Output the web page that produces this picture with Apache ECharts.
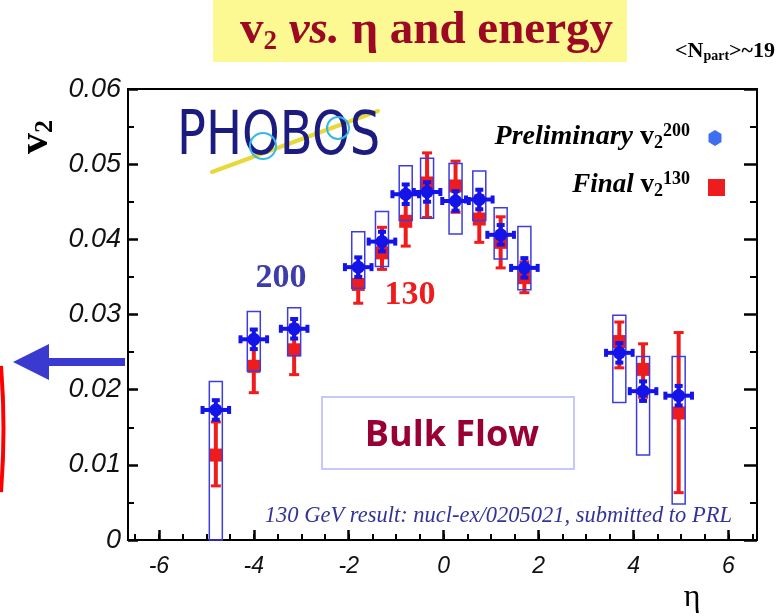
<!DOCTYPE html>
<html>
<head>
<meta charset="utf-8">
<script src="https://cdn.jsdelivr.net/npm/echarts@6/dist/echarts.min.js"></script>
<style>
  html, body { margin: 0; padding: 0; background: #ffffff; }
  #chart { width: 779px; height: 616px; }
</style>
</head>
<body>
<div id="chart"></div>
<script>
// PHOBOS elliptic flow v2 as a function of pseudorapidity, 200 and 130 GeV Au+Au

// pseudorapidity bin centres shared by both energies
const etaBins = [-4.8, -4.0, -3.15, -1.8, -1.3, -0.8, -0.35, 0.25, 0.75, 1.2, 1.7, 3.7, 4.2, 4.95];

// preliminary 200 GeV: value, statistical error, systematic band limits
const v2At200 = [0.0173, 0.0267, 0.0281, 0.0363, 0.0397, 0.0460, 0.0463, 0.0451, 0.0453, 0.0406, 0.0362, 0.0249, 0.0198, 0.0192];
const v2At200Stat = [0.0013, 0.0013, 0.0013, 0.0013, 0.0013, 0.0013, 0.0013, 0.0013, 0.0013, 0.0013, 0.0013, 0.0013, 0.0013, 0.0013];
const v2At200SysLow = [0.0, 0.0225, 0.0245, 0.0335, 0.0364, 0.0425, 0.0428, 0.0407, 0.0425, 0.0374, 0.0333, 0.0183, 0.0113, 0.0048];
const v2At200SysHigh = [0.0211, 0.0304, 0.0309, 0.0410, 0.0437, 0.0498, 0.0508, 0.0501, 0.0491, 0.0442, 0.0417, 0.0299, 0.0244, 0.0244];
const etaHalfBin200 = 0.28;

// final 130 GeV: value and error bar limits
const v2At130 = [0.0113, 0.0231, 0.0253, 0.0340, 0.0382, 0.0424, 0.0475, 0.0471, 0.0427, 0.0396, 0.0349, 0.0264, 0.0227, 0.0169];
const v2At130Low = [0.0072, 0.0196, 0.0220, 0.0315, 0.0360, 0.0391, 0.0429, 0.0436, 0.0396, 0.0362, 0.0329, 0.0229, 0.0190, 0.0063];
const v2At130High = [0.0157, 0.0266, 0.0286, 0.0365, 0.0416, 0.0457, 0.0515, 0.0504, 0.0458, 0.0430, 0.0370, 0.0290, 0.0261, 0.0276];

// axis ticks
const etaTickValues = [-6, -4, -2, 0, 2, 4, 6];
const etaMinorTickValues = [];
for (let t = -6.5; t <= 6.5; t += 0.5) etaMinorTickValues.push(t);

const RED = '#ee1c1c';
const BLUE = '#1414e8';
const BOX_BLUE = '#3c3ce0';

const redData = etaBins.map((e, i) => [e, v2At130[i], v2At130Low[i], v2At130High[i]]);
const sysData = etaBins.map((e, i) => [e, v2At200SysLow[i], v2At200SysHigh[i]]);
const blueData = etaBins.map((e, i) => [e, v2At200[i], etaHalfBin200, v2At200Stat[i]]);

function renderFinal(params, api) {
  const eta = api.value(0);
  const c = api.coord([eta, api.value(1)]);
  const lo = api.coord([eta, api.value(2)]);
  const hi = api.coord([eta, api.value(3)]);
  const s = 13, cap = 5;
  return {
    type: 'group',
    children: [
      { type: 'line', shape: { x1: c[0], y1: lo[1], x2: c[0], y2: hi[1] }, style: { stroke: RED, lineWidth: 4 } },
      { type: 'line', shape: { x1: c[0] - cap, y1: lo[1], x2: c[0] + cap, y2: lo[1] }, style: { stroke: RED, lineWidth: 3 } },
      { type: 'line', shape: { x1: c[0] - cap, y1: hi[1], x2: c[0] + cap, y2: hi[1] }, style: { stroke: RED, lineWidth: 3 } },
      { type: 'rect', shape: { x: c[0] - s / 2, y: c[1] - s / 2, width: s, height: s }, style: { fill: RED } }
    ]
  };
}

function renderSys(params, api) {
  const eta = api.value(0);
  const lo = api.coord([eta, api.value(1)]);
  const hi = api.coord([eta, api.value(2)]);
  const hw = 6.5;
  return {
    type: 'rect',
    shape: { x: hi[0] - hw, y: hi[1], width: hw * 2, height: lo[1] - hi[1] },
    style: { fill: 'none', stroke: BOX_BLUE, lineWidth: 1.5 }
  };
}

function renderPrelim(params, api) {
  const eta = api.value(0), v = api.value(1), dx = api.value(2), dv = api.value(3);
  const c = api.coord([eta, v]);
  const l = api.coord([eta - dx, v]);
  const r = api.coord([eta + dx, v]);
  const t = api.coord([eta, v + dv]);
  const b = api.coord([eta, v - dv]);
  const cap = 4;
  const st = { stroke: BLUE, lineWidth: 4 };
  return {
    type: 'group',
    children: [
      { type: 'line', shape: { x1: l[0], y1: c[1], x2: r[0], y2: c[1] }, style: st },
      { type: 'line', shape: { x1: l[0], y1: c[1] - cap, x2: l[0], y2: c[1] + cap }, style: st },
      { type: 'line', shape: { x1: r[0], y1: c[1] - cap, x2: r[0], y2: c[1] + cap }, style: st },
      { type: 'line', shape: { x1: c[0], y1: t[1], x2: c[0], y2: b[1] }, style: st },
      { type: 'line', shape: { x1: c[0] - cap, y1: t[1], x2: c[0] + cap, y2: t[1] }, style: st },
      { type: 'line', shape: { x1: c[0] - cap, y1: b[1], x2: c[0] + cap, y2: b[1] }, style: st },
      { type: 'circle', shape: { cx: c[0], cy: c[1], r: 6.5 }, style: { fill: BLUE } }
    ]
  };
}

const serif = '"Liberation Serif", "Times New Roman", serif';
const sans = '"Liberation Sans", Arial, sans-serif';

const chart = echarts.init(document.getElementById('chart'), null, { renderer: 'canvas' });

chart.setOption({
  animation: false,
  backgroundColor: '#ffffff',
  grid: {
    left: 128, right: 22, top: 89, bottom: 76,
    show: true, borderColor: '#000', borderWidth: 2, backgroundColor: 'transparent'
  },
  xAxis: [
    {
      type: 'value', min: -6.65, max: 6.6, position: 'bottom',
      axisLine: { show: true, onZero: false, lineStyle: { color: '#000', width: 2 } },
      axisTick: { show: true, inside: true, length: 10, customValues: etaTickValues, lineStyle: { color: '#000', width: 2.5 } },
      axisLabel: {
        show: true, customValues: etaTickValues, margin: 15,
        fontFamily: sans, fontStyle: 'italic', fontSize: 23, color: '#111'
      },
      splitLine: { show: false }
    },
    {
      type: 'value', min: -6.65, max: 6.6, position: 'bottom',
      axisLine: { show: false, onZero: false },
      axisTick: { show: true, inside: true, length: 6, customValues: etaMinorTickValues, lineStyle: { color: '#000', width: 2 } },
      axisLabel: { show: false },
      splitLine: { show: false }
    }
  ],
  yAxis: [
    {
      type: 'value', min: 0, max: 0.06, interval: 0.01, position: 'left',
      axisLine: { show: true, onZero: false, lineStyle: { color: '#000', width: 2 } },
      axisTick: { show: true, inside: true, length: 10, lineStyle: { color: '#000', width: 2.5 } },
      minorTick: { show: true, splitNumber: 2, length: 6, lineStyle: { color: '#000', width: 2 } },
      axisLabel: {
        margin: 7, fontFamily: sans, fontStyle: 'italic', fontSize: 27, color: '#111',
        formatter: v => (v === 0 ? '0' : v.toFixed(2))
      },
      splitLine: { show: false }
    },
    {
      type: 'value', min: 0, max: 0.06, interval: 0.01, position: 'right',
      axisLine: { show: true, onZero: false, lineStyle: { color: '#000', width: 2 } },
      axisTick: { show: true, inside: true, length: 13, lineStyle: { color: '#000', width: 2.5 } },
      minorTick: { show: true, splitNumber: 2, length: 7, lineStyle: { color: '#000', width: 2 } },
      axisLabel: { show: false },
      splitLine: { show: false }
    }
  ],
  series: [
    { name: 'Final v2 130', type: 'custom', xAxisIndex: 0, yAxisIndex: 0, renderItem: renderFinal, data: redData, z: 2 },
    { name: 'Systematic v2 200', type: 'custom', xAxisIndex: 0, yAxisIndex: 0, renderItem: renderSys, data: sysData, z: 3 },
    { name: 'Preliminary v2 200', type: 'custom', xAxisIndex: 0, yAxisIndex: 0, renderItem: renderPrelim, data: blueData, z: 4 }
  ],
  graphic: [
    // title banner
    { type: 'rect', shape: { x: 213, y: 0, width: 414, height: 62 }, style: { fill: '#fcf993' }, z: 0 },
    {
      type: 'text', x: 240, y: 31,
      style: {
        text: '{m|v}{s|2}{i| vs.}{m| η and energy}',
        align: 'left', verticalAlign: 'middle',
        rich: {
          m: { fontFamily: serif, fontWeight: 'bold', fontSize: 47, fill: '#9b0a22', lineHeight: 50 },
          i: { fontFamily: serif, fontWeight: 'bold', fontStyle: 'italic', fontSize: 47, fill: '#9b0a22', lineHeight: 50 },
          s: { fontFamily: serif, fontWeight: 'bold', fontSize: 27, fill: '#9b0a22', lineHeight: 6, verticalAlign: 'bottom' }
        }
      }
    },
    // participant number, upper right
    {
      type: 'text', x: 675, y: 51,
      style: {
        text: '{m|<N}{s|part}{m|>~19}',
        align: 'left', verticalAlign: 'middle',
        rich: {
          m: { fontFamily: serif, fontWeight: 'bold', fontSize: 22, fill: '#000', lineHeight: 24 },
          s: { fontFamily: serif, fontWeight: 'bold', fontSize: 14, fill: '#000', lineHeight: 4, verticalAlign: 'bottom' }
        }
      }
    },
    // PHOBOS logo
    { type: 'line', shape: { x1: 212, y1: 172, x2: 378, y2: 111 }, style: { stroke: '#e8d83a', lineWidth: 4, lineCap: 'round' } },
    {
      type: 'text', x: 177, y: 138, scaleX: 0.8,
      style: { text: 'PHOBOS', fontFamily: '"DejaVu Sans", sans-serif', fontSize: 60, fill: '#1c1c80', align: 'left', verticalAlign: 'middle' }
    },
    { type: 'circle', shape: { cx: 263, cy: 146, r: 13 }, style: { fill: 'none', stroke: '#35b8e8', lineWidth: 2 } },
    { type: 'circle', shape: { cx: 338, cy: 128, r: 11 }, style: { fill: 'none', stroke: '#35b8e8', lineWidth: 2 } },
    // legend
    {
      type: 'text', x: 690, y: 137,
      style: {
        text: '{i|Preliminary }{m|v}{s|2}{u|200}',
        align: 'right', verticalAlign: 'middle',
        rich: {
          i: { fontFamily: serif, fontWeight: 'bold', fontStyle: 'italic', fontSize: 28, fill: '#000', lineHeight: 30 },
          m: { fontFamily: serif, fontWeight: 'bold', fontSize: 28, fill: '#000', lineHeight: 30 },
          s: { fontFamily: serif, fontWeight: 'bold', fontSize: 18, fill: '#000', lineHeight: 6, verticalAlign: 'bottom' },
          u: { fontFamily: serif, fontWeight: 'bold', fontSize: 18, fill: '#000', lineHeight: 16, verticalAlign: 'top' }
        }
      }
    },
    {
      type: 'text', x: 690, y: 185,
      style: {
        text: '{i|Final }{m|v}{s|2}{u|130}',
        align: 'right', verticalAlign: 'middle',
        rich: {
          i: { fontFamily: serif, fontWeight: 'bold', fontStyle: 'italic', fontSize: 27, fill: '#000', lineHeight: 30 },
          m: { fontFamily: serif, fontWeight: 'bold', fontSize: 27, fill: '#000', lineHeight: 30 },
          s: { fontFamily: serif, fontWeight: 'bold', fontSize: 18, fill: '#000', lineHeight: 6, verticalAlign: 'bottom' },
          u: { fontFamily: serif, fontWeight: 'bold', fontSize: 18, fill: '#000', lineHeight: 16, verticalAlign: 'top' }
        }
      }
    },
    { type: 'polygon', shape: { points: [[715, 130], [721.5, 134], [721.5, 142], [715, 146], [708.5, 142], [708.5, 134]] }, style: { fill: '#3d6ff0' } },
    { type: 'rect', shape: { x: 708, y: 179, width: 17, height: 17 }, style: { fill: RED } },
    // energy labels
    { type: 'text', x: 281, y: 278, style: { text: '200', fontFamily: serif, fontWeight: 'bold', fontSize: 34, fill: '#3c3caa', align: 'center', verticalAlign: 'middle' } },
    { type: 'text', x: 410, y: 295, style: { text: '130', fontFamily: serif, fontWeight: 'bold', fontSize: 34, fill: RED, align: 'center', verticalAlign: 'middle' } },
    // bulk flow annotation
    { type: 'rect', shape: { x: 322, y: 397, width: 252, height: 72 }, style: { fill: '#fff', stroke: '#c8c8f8', lineWidth: 2 } },
    { type: 'text', x: 452, y: 436, style: { text: 'Bulk Flow', fontFamily: '"Open Sans", sans-serif', fontWeight: 'bold', fontSize: 36, fill: '#990033', align: 'center', verticalAlign: 'middle' } },
    // reference note
    { type: 'text', x: 732, y: 516, style: { text: '130 GeV result: nucl-ex/0205021, submitted to PRL', fontFamily: serif, fontStyle: 'italic', fontSize: 22.5, fill: '#33339a', align: 'right', verticalAlign: 'middle' } },
    // axis titles
    {
      type: 'text', x: 36, y: 137, rotation: Math.PI / 2,
      style: {
        text: '{m|v}{s|2}', align: 'center', verticalAlign: 'middle',
        rich: {
          m: { fontFamily: serif, fontWeight: 'bold', fontSize: 42, fill: '#000', lineHeight: 44 },
          s: { fontFamily: serif, fontWeight: 'bold', fontSize: 26, fill: '#000', lineHeight: 8, verticalAlign: 'bottom' }
        }
      }
    },
    { type: 'text', x: 692, y: 598, style: { text: 'η', fontFamily: serif, fontSize: 32, fill: '#000', align: 'center', verticalAlign: 'middle' } },
    // arrow pointing left at the v2 scale
    { type: 'line', shape: { x1: 125, y1: 362, x2: 44, y2: 362 }, style: { stroke: '#3a3ad0', lineWidth: 8 } },
    { type: 'polygon', shape: { points: [[13, 362], [49, 344], [49, 380]] }, style: { fill: '#3a3ad0' } },
    // red bracket at the left edge
    { type: 'bezierCurve', shape: { x1: 1, y1: 366, cpx1: 6, cpy1: 428, x2: 1, y2: 492 }, style: { stroke: '#ff0000', lineWidth: 4, fill: 'none' } }
  ]
});
</script>
</body>
</html>
